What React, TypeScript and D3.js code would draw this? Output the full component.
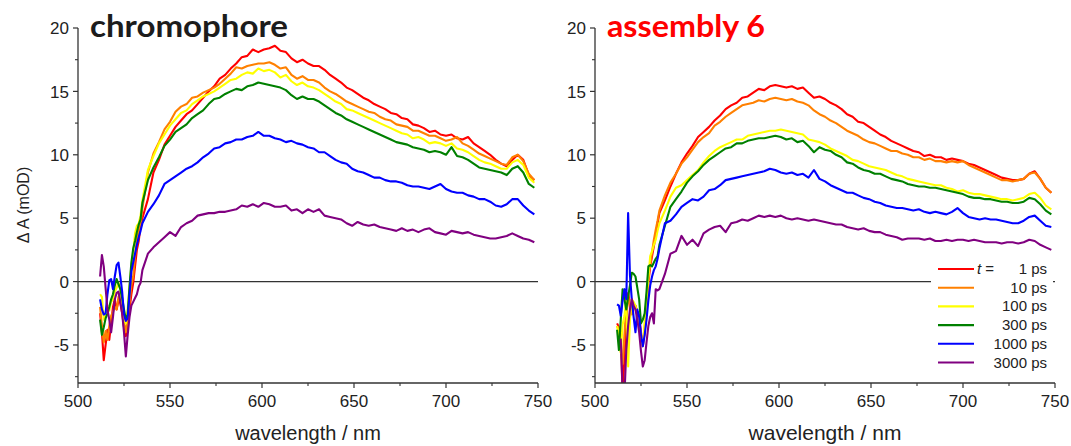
import * as d3 from 'd3';

// wavelength grid (nm): 1 nm steps through the bleach region, 3 nm after
const WAVELENGTHS = [
  512, 513, 514, 515, 516, 517, 518, 519, 520, 521, 522, 523,
  524, 525, 526, 527, 528, 529, 530, 531, 532, 533, 534, 535,
  538, 541, 544, 547, 550, 553, 556, 559, 562, 565,
  568, 571, 574, 577, 580, 583, 586, 589, 592, 595,
  598, 601, 604, 607, 610, 613, 616, 619, 622, 625,
  628, 631, 634, 637, 640, 643, 646, 649, 652, 655,
  658, 661, 664, 667, 670, 673, 676, 679, 682, 685,
  688, 691, 694, 697, 700, 703, 706, 709, 712, 715,
  718, 721, 724, 727, 730, 733, 736, 739, 742, 745, 748,
];

const DELAYS = ['1 ps', '10 ps', '100 ps', '300 ps', '1000 ps', '3000 ps'];
const COLORS = ['#ff0000', '#ff8000', '#ffff00', '#008000', '#0000ff', '#800080'];

const X_TICKS = [500, 550, 600, 650, 700, 750];
const X_MINOR = [525, 575, 625, 675, 725];
const Y_TICKS = [-5, 0, 5, 10, 15, 20];
const Y_MINOR = [-7.5, -2.5, 2.5, 7.5, 12.5, 17.5];

// chromophore, ΔA in mOD
const chromo1 = [
  -2.5, -4.0, -6.2, -5.0, -3.8, -4.6, -3.3, -2.0, -1.4, -2.2, -1.5, -1.7,
  -2.5, -3.6, -4.3, -3.4, -2.2, -1.0, -0.1, 1.2, 2.5, 3.2, 4.4, 5.0,
  6.5, 8.6, 9.6, 10.8, 11.5, 12.2, 12.7, 13.2, 13.5, 14.0,
  14.5, 15.0, 15.4, 16.0, 16.3, 16.8, 17.2, 17.7, 17.8, 18.3,
  18.1, 18.3, 18.4, 18.6, 18.2, 18.1, 17.6, 17.3, 17.5, 17.2,
  17.0, 17.0, 16.7, 16.3, 16.0, 15.7, 15.3, 15.1, 14.8, 14.5,
  14.3, 14.0, 13.8, 13.6, 13.3, 13.2, 12.9, 12.8, 12.4, 12.3,
  12.1, 11.8, 11.9, 11.6, 11.5, 11.6, 11.3, 11.2, 11.4, 10.9,
  10.6, 10.3, 10.0, 9.6, 9.3, 9.1, 9.6, 10.0, 9.6, 8.4, 8.0,
];
const chromo10 = [
  -2.0, -3.5, -4.8, -3.9, -4.6, -3.5, -2.7, -2.4, -2.0, -2.2, -1.2, -0.9,
  -2.0, -3.2, -4.0, -3.0, -1.6, -0.3, 0.4, 2.0, 3.3, 4.0, 4.6, 5.8,
  8.6, 10.1, 11.0, 12.0, 12.6, 13.4, 13.8, 14.0, 14.5, 14.6,
  14.9, 15.1, 15.3, 15.6, 16.0, 16.4, 16.9, 16.8, 17.0, 17.1,
  17.2, 17.2, 17.3, 17.1, 16.8, 16.9, 16.3, 16.0, 16.2, 15.9,
  15.9, 15.7, 15.3, 15.0, 14.8, 14.5, 14.2, 14.0, 13.8, 13.6,
  13.4, 13.3, 13.0, 12.8, 12.7, 12.4, 12.3, 12.2, 11.9, 11.9,
  11.7, 11.5, 11.5, 11.3, 11.1, 11.2, 11.4, 10.9, 10.7, 10.4,
  10.1, 9.9, 9.7, 9.5, 9.3, 9.2, 9.8, 10.0, 9.5, 8.5, 8.0,
];
const chromo100 = [
  -1.0, -1.2, -3.0, -2.4, -1.9, -2.3, -1.6, -1.4, -0.8, -0.5, -0.1, -0.6,
  -1.8, -2.9, -3.3, -2.2, -0.4, 1.2, 2.2, 3.8, 4.4, 4.6, 5.2, 6.4,
  8.8, 9.9, 10.9, 11.6, 12.3, 12.8, 13.3, 13.5, 14.0, 14.3,
  14.6, 14.8, 15.0, 15.3, 15.6, 15.9, 16.0, 16.3, 16.5, 16.4,
  16.8, 16.6, 16.7, 16.5, 16.1, 16.3, 15.8, 15.5, 15.7, 15.4,
  15.3, 15.1, 14.8, 14.5, 14.2, 14.0, 13.6, 13.5, 13.3, 13.1,
  12.9, 12.7, 12.5, 12.3, 12.1, 11.9, 11.7, 11.6, 11.3, 11.4,
  11.2, 10.9, 11.0, 10.9, 10.7, 10.9, 10.5, 10.4, 10.2, 9.9,
  9.6, 9.4, 9.3, 9.1, 8.9, 8.9, 9.4, 9.6, 9.2, 8.2, 7.8,
];
const chromo300 = [
  -3.0, -4.2, -3.6, -2.9, -2.5, -2.0, -1.4, -1.0, -0.3, 0.2, -0.2, -0.6,
  -1.3, -2.2, -3.0, -2.6, -0.4, 1.5, 2.6, 3.2, 3.9, 4.5, 4.9, 6.2,
  8.0, 9.0, 9.8, 10.7, 11.2, 11.8, 12.1, 12.4, 12.9, 13.2,
  13.5, 14.0, 14.4, 14.5, 14.8, 15.0, 15.2, 15.1, 15.4, 15.5,
  15.7, 15.6, 15.5, 15.4, 15.3, 15.1, 14.7, 14.4, 14.6, 14.4,
  14.4, 14.2, 13.9, 13.6, 13.3, 13.1, 12.8, 12.6, 12.4, 12.2,
  12.0, 11.8, 11.6, 11.4, 11.2, 11.0, 10.9, 10.8, 10.6, 10.5,
  10.4, 10.2, 10.3, 10.2, 10.0, 10.6, 9.9, 9.8, 9.6, 9.3,
  9.0, 8.9, 8.8, 8.7, 8.6, 8.4, 8.9, 9.1, 8.6, 7.7, 7.4,
];
const chromo1000 = [
  -1.4, -2.2, -2.6, -2.5, -1.0, 0.1, 0.2, -0.6, 0.4, 1.3, 1.5, 0.4,
  -0.8, -2.6, -3.1, -2.9, -1.0, 0.8, 1.5, 2.2, 2.9, 3.5, 4.0, 4.6,
  5.5, 6.1, 6.8, 7.7, 8.0, 8.3, 8.6, 8.9, 9.1, 9.4,
  9.8, 10.1, 10.5, 10.6, 10.9, 11.0, 11.2, 11.2, 11.4, 11.5,
  11.8, 11.5, 11.5, 11.3, 11.2, 11.0, 11.1, 10.9, 10.8, 10.6,
  10.5, 10.2, 10.2, 9.9, 9.6, 9.4, 9.3, 8.9, 8.7, 8.6,
  8.4, 8.2, 8.2, 8.0, 7.9, 7.9, 7.8, 7.6, 7.5, 7.5,
  7.4, 7.3, 7.5, 7.7, 7.3, 7.1, 7.0, 7.0, 6.8, 6.7,
  6.5, 6.5, 6.3, 6.0, 5.9, 6.1, 6.5, 6.5, 6.0, 5.6, 5.3,
];
const chromo3000 = [
  0.4, 2.1, 1.2, -0.5, -2.2, -3.0, -4.0, -2.8, -1.4, -0.9, -0.8, -1.6,
  -2.5, -4.0, -5.9, -4.2, -2.8, -1.9, -1.6, -1.3, -1.0, -0.4, -0.1, 0.9,
  2.2, 2.7, 3.1, 3.5, 3.9, 3.6, 4.3, 4.6, 4.8, 5.2,
  5.3, 5.4, 5.4, 5.5, 5.5, 5.6, 5.7, 6.0, 5.9, 6.1,
  5.9, 6.2, 6.1, 5.9, 5.9, 6.0, 5.6, 5.7, 5.4, 5.7,
  5.5, 5.7, 5.2, 5.1, 5.0, 4.9, 4.6, 4.4, 4.7, 4.5,
  4.4, 4.5, 4.3, 4.2, 4.1, 4.0, 4.2, 4.0, 4.1, 3.9,
  4.1, 4.2, 3.9, 3.8, 3.7, 4.0, 3.9, 3.8, 3.9, 3.7,
  3.6, 3.5, 3.4, 3.4, 3.5, 3.6, 3.8, 3.6, 3.4, 3.3, 3.1,
];

// assembly 6, ΔA in mOD
const asm1 = [
  -3.3, -3.6, -4.0, -9.0, -5.9, -3.0, -0.9, -1.8, -2.5, -2.0, -1.9, -2.4,
  -2.7, -4.0, -5.1, -4.0, -2.0, -0.1, 1.2, 2.0, 2.8, 3.6, 4.6, 5.4,
  6.4, 7.5, 8.5, 9.4, 10.1, 10.7, 11.4, 11.8, 12.2, 12.7,
  13.1, 13.6, 13.9, 14.1, 14.5, 14.6, 14.9, 15.2, 15.1, 15.4,
  15.5, 15.4, 15.3, 15.4, 15.2, 15.3, 14.9, 14.5, 14.6, 14.4,
  14.1, 13.9, 13.6, 13.2, 13.0, 12.6, 12.5, 12.2, 11.9, 11.6,
  11.4, 11.1, 10.9, 10.7, 10.5, 10.3, 10.2, 9.9, 10.0, 9.8,
  9.8, 9.6, 9.7, 9.6, 9.5, 9.3, 9.2, 9.0, 8.8, 8.6,
  8.4, 8.2, 8.1, 8.0, 8.0, 8.1, 8.5, 8.7, 8.1, 7.4, 7.0,
];
const asm10 = [
  -3.5, -3.9, -5.5, -6.5, -4.2, -2.0, -1.2, -2.0, -2.6, -1.8, -2.2, -2.6,
  -3.2, -4.2, -5.0, -3.6, -1.5, 0.4, 1.3, 2.3, 3.3, 4.1, 4.8, 5.6,
  6.8, 7.8, 8.5, 9.3, 9.8, 10.4, 11.0, 11.4, 11.7, 12.3,
  12.6, 13.0, 13.3, 13.6, 13.9, 14.0, 14.1, 14.3, 14.2, 14.4,
  14.5, 14.4, 14.3, 14.4, 14.2, 14.1, 13.9, 13.5, 13.2, 13.0,
  12.7, 12.5, 12.2, 11.9, 11.7, 11.5, 11.2, 11.0, 10.9, 10.7,
  10.5, 10.3, 10.3, 10.1, 10.0, 9.8, 9.8, 9.6, 9.7, 9.5,
  9.5, 9.4, 9.5, 9.4, 9.5, 9.2, 9.0, 8.8, 8.6, 8.4,
  8.2, 8.0, 8.0, 7.9, 8.0, 8.1, 8.5, 8.6, 8.1, 7.4, 7.0,
];
const asm100 = [
  -3.5, -4.2, -5.6, -3.4, -2.7, -1.4, -6.7, -3.0, -1.4, -1.6, -1.9, -2.6,
  -3.5, -4.4, -5.1, -3.2, -1.4, 0.3, 2.0, 2.4, 2.9, 3.3, 4.0, 4.6,
  5.6, 6.7, 7.4, 7.6, 8.0, 8.4, 8.8, 9.4, 9.9, 10.3,
  10.6, 10.8, 11.0, 11.2, 11.2, 11.5, 11.6, 11.7, 11.8, 11.9,
  11.9, 12.0, 11.9, 11.8, 11.7, 11.6, 11.2, 11.1, 11.0, 10.8,
  10.5, 10.3, 10.1, 9.9, 9.6, 9.5, 9.3, 9.1, 9.0, 8.9,
  8.8, 8.6, 8.4, 8.3, 8.1, 8.0, 7.9, 7.8, 7.7, 7.6,
  7.6, 7.4, 7.3, 7.1, 7.2, 7.0, 6.9, 6.9, 6.8, 6.7,
  6.6, 6.5, 6.5, 6.4, 6.5, 6.6, 6.9, 7.0, 6.6, 6.0, 5.7,
];
const asm300 = [
  -3.8, -5.4, -3.0, -0.6, -1.4, -2.2, -1.2, -0.3, 0.7, 0.6, 0.4, -0.5,
  -1.4, -3.3, -3.0, -2.5, -0.8, 1.2, 1.3, 1.2, 1.5, 1.8, 2.0, 2.9,
  4.4, 5.9, 6.5, 7.1, 7.8, 8.3, 8.7, 9.2, 9.6, 9.9,
  10.2, 10.5, 10.6, 10.9, 10.9, 11.1, 11.2, 11.3, 11.3, 11.4,
  11.5, 11.4, 11.2, 11.3, 11.0, 11.1, 10.7, 10.2, 10.6, 10.4,
  10.3, 10.0, 9.8, 9.4, 9.3, 9.0, 8.8, 8.7, 8.5, 8.5,
  8.3, 8.1, 8.0, 7.9, 7.7, 7.6, 7.5, 7.5, 7.4, 7.4,
  7.3, 7.2, 7.1, 7.0, 6.9, 6.7, 6.6, 6.6, 6.5, 6.5,
  6.4, 6.3, 6.3, 6.2, 6.2, 6.3, 6.6, 6.5, 6.1, 5.6, 5.3,
];
const asm1000 = [
  -1.8, -1.9, -2.7, -1.5, -0.6, -1.4, 5.4, 0.5, -1.4, -2.8, -4.0, -2.2,
  -2.8, -4.2, -5.1, -4.2, -3.0, -1.5, -0.3, 0.4, 0.9, 1.2, 1.8, 2.6,
  4.6, 4.8, 5.3, 5.9, 6.2, 6.5, 6.4, 6.7, 7.2, 7.3,
  7.6, 8.0, 8.1, 8.2, 8.3, 8.4, 8.5, 8.6, 8.7, 8.9,
  8.8, 8.6, 8.5, 8.6, 8.4, 8.5, 8.2, 8.8, 8.1, 7.9,
  7.6, 7.4, 7.2, 7.0, 7.0, 6.8, 6.6, 6.5, 6.3, 6.2,
  6.0, 5.9, 5.8, 5.8, 5.7, 5.6, 5.7, 5.5, 5.4, 5.5,
  5.4, 5.3, 5.5, 5.8, 5.4, 5.1, 5.0, 4.9, 5.0, 4.9,
  4.9, 4.8, 4.7, 4.6, 4.6, 4.8, 5.1, 5.2, 4.8, 4.4, 4.3,
];
const asm3000 = [
  null, null, -4.5, -8.5, -9.0, -5.4, -3.5, -2.2, -1.4, -1.9, -2.2, -3.0,
  -4.0, -5.5, -6.7, -6.2, -4.8, -3.5, -2.8, -2.5, -3.3, -0.6, -0.7, -0.6,
  0.6, 2.2, 2.4, 3.6, 2.9, 3.3, 2.8, 3.8, 4.1, 4.3,
  4.4, 3.9, 4.6, 4.7, 4.9, 4.8, 5.0, 5.2, 5.1, 5.2,
  5.1, 5.2, 5.0, 4.9, 5.0, 4.9, 4.8, 4.9, 4.8, 4.7,
  4.6, 4.5, 4.5, 4.3, 4.2, 4.1, 4.2, 4.0, 3.9, 3.9,
  3.7, 3.6, 3.5, 3.3, 3.4, 3.4, 3.4, 3.3, 3.4, 3.2,
  3.2, 3.3, 3.2, 3.3, 3.3, 3.2, 3.3, 3.2, 3.1, 3.1,
  3.1, 3.0, 3.1, 3.1, 3.0, 3.1, 3.3, 3.2, 2.9, 2.7, 2.5,
];

const CHROMO = [chromo1, chromo10, chromo100, chromo300, chromo1000, chromo3000];
const ASSEMBLY = [asm1, asm10, asm100, asm300, asm1000, asm3000];

const W = 1071;
const H = 446;
const TOP = 28;
const BOTTOM = 383;
const PLOT_W = 460;
const FONT = 'Arial, "Liberation Sans", sans-serif';
const INK = '#222';

type PanelProps = {
  id: string;
  left: number;
  title: string;
  titleColor: string;
  titleWidth: number;
  series: (number | null)[][];
  yLabel?: boolean;
  legend?: boolean;
  xLabelSize: number;
};

function Panel({ id, left, title, titleColor, titleWidth, series, yLabel, legend, xLabelSize }: PanelProps) {
  const x = d3.scaleLinear().domain([500, 750]).range([left, left + PLOT_W]);
  const y = d3.scaleLinear().domain([-8, 20]).range([BOTTOM, TOP]);
  const line = d3.line<number | null>()
    .defined(d => d != null)
    .x((_, i) => x(WAVELENGTHS[i]))
    .y(d => y(d as number));

  const legendX = x(750) - 117;
  const legendY = 269;
  const rowH = 18.7;

  return (
    <g>
      <defs>
        <clipPath id={id}>
          <rect x={left} y={TOP} width={PLOT_W} height={BOTTOM - TOP} />
        </clipPath>
      </defs>

      {/* zero line */}
      <line x1={left} x2={x(750)} y1={y(0)} y2={y(0)} stroke="#333" strokeWidth={1.3} />

      <g clipPath={`url(#${id})`}>
        {series.map((s, i) => (
          <path key={DELAYS[i]} d={line(s) || ''} fill="none" stroke={COLORS[i]}
            strokeWidth={2.1} strokeLinejoin="round" />
        ))}
      </g>

      {/* axes */}
      <line x1={left} x2={left} y1={TOP} y2={BOTTOM} stroke="#333" strokeWidth={1.3} />
      <line x1={left} x2={x(750)} y1={BOTTOM} y2={BOTTOM} stroke="#333" strokeWidth={1.3} />
      {Y_TICKS.map(t => (
        <g key={t}>
          <line x1={left - 5} x2={left} y1={y(t)} y2={y(t)} stroke="#333" strokeWidth={1.2} />
          <text x={left - 9} y={y(t)} dy="0.36em" textAnchor="end" fontSize={17}
            fontFamily={FONT} fill={INK}>{t}</text>
        </g>
      ))}
      {Y_MINOR.map(t => (
        <line key={t} x1={left - 3} x2={left} y1={y(t)} y2={y(t)} stroke="#333" strokeWidth={1.1} />
      ))}
      {X_TICKS.map(t => (
        <g key={t}>
          <line x1={x(t)} x2={x(t)} y1={BOTTOM} y2={BOTTOM + 5} stroke="#333" strokeWidth={1.2} />
          <text x={x(t)} y={407} textAnchor="middle" fontSize={17} fontFamily={FONT} fill={INK}>{t}</text>
        </g>
      ))}
      {X_MINOR.map(t => (
        <line key={t} x1={x(t)} x2={x(t)} y1={BOTTOM} y2={BOTTOM + 3} stroke="#333" strokeWidth={1.1} />
      ))}

      <text x={left + PLOT_W / 2} y={440} textAnchor="middle" fontSize={xLabelSize}
        fontFamily={FONT} fill={INK}>wavelength / nm</text>

      {yLabel && (
        <text transform="translate(29,205) rotate(-90)" textAnchor="middle" fontSize={16}
          fontFamily={FONT} fill={INK}>Δ A (mOD)</text>
      )}

      <text x={left + 12} y={37} fontSize={31} fontWeight="bold" fontFamily='Lato, "Open Sans", sans-serif'
        fill={titleColor} textLength={titleWidth} lengthAdjust="spacingAndGlyphs">{title}</text>

      {legend && (
        <g>
          <rect x={legendX - 7} y={legendY - 11} width={122} height={rowH * 6 + 3} fill="#fff" />
          {DELAYS.map((d, i) => (
            <g key={d}>
              <line x1={legendX} x2={legendX + 36} y1={legendY + i * rowH} y2={legendY + i * rowH}
                stroke={COLORS[i]} strokeWidth={2.1} />
              {i === 0 && (
                <text x={legendX + 39} y={legendY + 5} fontSize={15} fontFamily={FONT} fill={INK}>
                  <tspan fontStyle="italic">t</tspan> =
                </text>
              )}
              <text x={legendX + 109} y={legendY + i * rowH + 5} textAnchor="end" fontSize={15}
                fontFamily={FONT} fill={INK}>{d}</text>
            </g>
          ))}
        </g>
      )}
    </g>
  );
}

export default function App() {
  return (
    <div style={{ position: 'absolute', left: 0, top: 0 }}>
      <svg width={W} height={H} style={{ display: 'block', background: '#fff' }}>
        <Panel id="clip-chromo" left={78} title="chromophore" titleColor="#1c1c1c" titleWidth={198}
          series={CHROMO} yLabel xLabelSize={20} />
        <Panel id="clip-asm" left={595} title="assembly 6" titleColor="#ff0000" titleWidth={158}
          series={ASSEMBLY} legend xLabelSize={21} />
      </svg>
    </div>
  );
}
